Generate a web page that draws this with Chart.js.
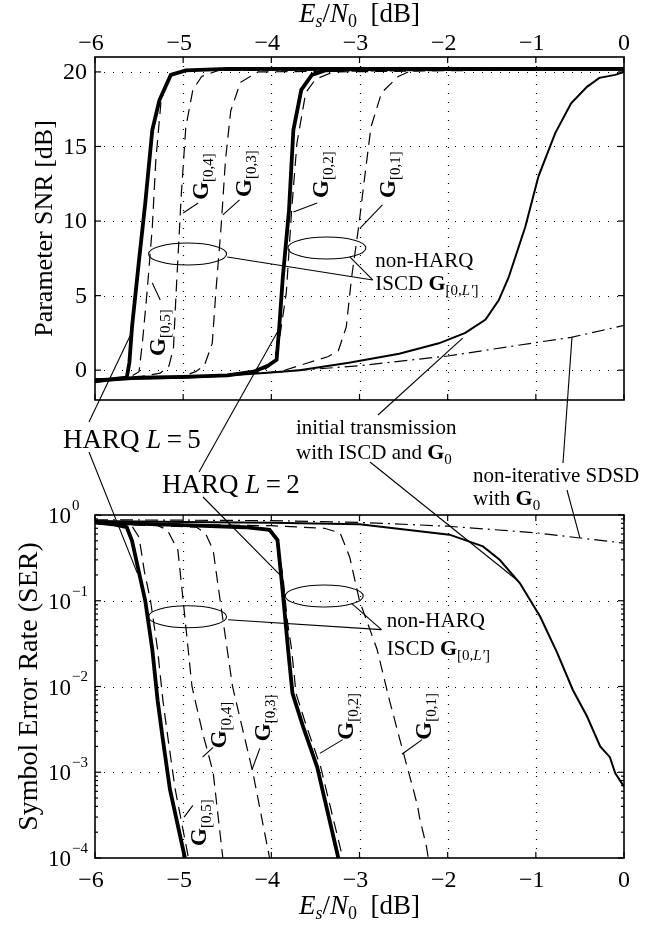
<!DOCTYPE html>
<html lang="en">
<head>
<meta charset="UTF-8">
<title>Parameter SNR and SER versus Es/N0</title>
<script src="https://cdn.jsdelivr.net/npm/chart.js"></script>
<style>
  body { margin: 0; background: #fff; }
  .wrap { position: relative; width: 662px; height: 928px; }
  .wrap canvas { position: absolute; left: 0; top: 0; }
</style>
</head>
<body>
<div class="wrap">
  <canvas id="snrChart" width="662" height="928"></canvas>
  <canvas id="serChart" width="662" height="928"></canvas>
</div>
<script>
// ---- axes ----
const xTicks = [-6, -5, -4, -3, -2, -1, 0];
const snrTicks = [0, 5, 10, 15, 20];
const serTicks = [1e-4, 1e-3, 1e-2, 1e-1, 1];
const serExp = ['\u22124', '\u22123', '\u22122', '\u22121', '0'];

// ---- top: parameter SNR [dB] vs Es/N0 [dB] ----
const harq5Snr = [[-6,-0.75],[-5.8,-0.6],[-5.64,-0.5],[-5.61,0.5],[-5.58,2.9],[-5.5,7.4],[-5.43,11.2],[-5.35,16.1],[-5.27,18.1],[-5.14,19.8],[-4.97,20.1],[-4.5,20.2],[0,20.2]];
const harq2Snr = [[-6,-0.7],[-5.5,-0.5],[-5,-0.45],[-4.5,-0.35],[-4.2,-0.1],[-4.04,0.3],[-3.94,0.7],[-3.91,2.9],[-3.87,6.2],[-3.8,10.7],[-3.75,16.1],[-3.66,18.8],[-3.54,19.8],[-3.39,20.1],[-3,20.2],[0,20.2]];
const g05Snr = [[-6,-0.6],[-5.6,-0.45],[-5.5,-0.1],[-5.46,2],[-5.41,5.2],[-5.35,9.6],[-5.31,14.1],[-5.25,18.1],[-5.16,19.7],[-5.0,20.1],[0,20.2]];
const g04Snr = [[-6,-0.6],[-5.5,-0.45],[-5.26,-0.2],[-5.16,0.3],[-5.11,1.5],[-5.08,5.2],[-5.02,11.9],[-4.97,16.3],[-4.89,18.8],[-4.79,19.7],[-4.6,20.1],[0,20.2]];
const g03Snr = [[-6,-0.6],[-5,-0.4],[-4.86,-0.1],[-4.76,0.3],[-4.67,1.8],[-4.63,5.2],[-4.57,9.6],[-4.52,14.1],[-4.46,17.4],[-4.35,19.3],[-4.15,20.0],[0,20.2]];
const g02Snr = [[-6,-0.6],[-4.5,-0.35],[-4.1,-0.1],[-3.98,0.5],[-3.91,2],[-3.83,5.2],[-3.77,10.7],[-3.71,15.2],[-3.61,18.6],[-3.5,19.5],[-3.3,20.0],[0,20.2]];
const g01Snr = [[-6,-0.6],[-4.5,-0.35],[-3.9,-0.1],[-3.58,0.5],[-3.36,0.9],[-3.24,1.3],[-3.15,2.9],[-3.09,6.2],[-3.01,9.6],[-2.94,13],[-2.87,16.3],[-2.75,18.6],[-2.56,19.7],[-2.41,20.1],[-2,20.2],[0,20.2]];
const initSnr = [[-6,-0.65],[-5,-0.5],[-4.5,-0.35],[-4,-0.15],[-3.68,0.0],[-3.12,0.5],[-2.55,1.1],[-2.1,1.8],[-1.8,2.5],[-1.57,3.4],[-1.42,4.7],[-1.31,6.2],[-1.12,9.6],[-0.97,13],[-0.78,15.9],[-0.6,17.9],[-0.42,19.0],[-0.28,19.6],[-0.1,19.8],[0,20.0]];
const sdsdSnr = [[-6,-0.65],[-5,-0.45],[-4,-0.15],[-3,0.3],[-2,0.95],[-1,1.85],[-0.6,2.2],[0,3.0]];

// ---- bottom: symbol error rate vs Es/N0 [dB] ----
const harq5Ser = [[-6,0.82],[-5.8,0.78],[-5.64,0.72],[-5.58,0.5],[-5.49,0.19],[-5.43,0.1],[-5.35,0.027],[-5.29,0.0069],[-5.23,0.0024],[-5.15,0.00063],[-4.98,0.0001]];
const harq2Ser = [[-6,0.82],[-5,0.76],[-4.3,0.72],[-4.02,0.67],[-3.93,0.51],[-3.88,0.16],[-3.81,0.027],[-3.76,0.0083],[-3.64,0.0034],[-3.48,0.00115],[-3.24,0.0001]];
const g05Ser = [[-6,0.8],[-5.7,0.78],[-5.58,0.74],[-5.5,0.55],[-5.44,0.22],[-5.37,0.1],[-5.29,0.027],[-5.23,0.0069],[-5.17,0.0024],[-5.09,0.00063],[-4.94,0.0001]];
const g04Ser = [[-6,0.8],[-5.3,0.76],[-5.18,0.67],[-5.06,0.39],[-5.0,0.1],[-4.9,0.01],[-4.78,0.0029],[-4.66,0.001],[-4.55,0.0001]];
const g03Ser = [[-6,0.8],[-4.85,0.72],[-4.75,0.62],[-4.66,0.39],[-4.58,0.1],[-4.44,0.01],[-4.21,0.001],[-4.02,0.0001]];
const g02Ser = [[-6,0.8],[-4.5,0.74],[-4.05,0.68],[-3.95,0.55],[-3.87,0.2],[-3.82,0.06],[-3.77,0.027],[-3.72,0.0083],[-3.6,0.0034],[-3.44,0.00115],[-3.19,0.0001]];
const g01Ser = [[-6,0.8],[-4,0.75],[-3.4,0.7],[-3.22,0.62],[-3.11,0.32],[-3.0,0.1],[-2.8,0.027],[-2.66,0.0069],[-2.51,0.0018],[-2.39,0.00063],[-2.34,0.0004],[-2.32,0.0003],[-2.24,0.000135],[-2.22,0.0001]];
const initSer = [[-6,0.85],[-5,0.83],[-4,0.81],[-3,0.78],[-1.98,0.59],[-1.6,0.43],[-1.41,0.30],[-1.18,0.16],[-0.95,0.065],[-0.76,0.025],[-0.58,0.0091],[-0.42,0.0045],[-0.27,0.002],[-0.16,0.0015],[-0.1,0.00098],[0,0.00068]];
const sdsdSer = [[-6,0.88],[-5,0.87],[-4,0.86],[-3,0.82],[-2,0.74],[-1,0.62],[0,0.47]];

const FONT = '"Liberation Serif", "Times New Roman", serif';
const f = (size, style) => (style ? style + ' ' : '') + size + 'px ' + FONT;

const thick = {borderWidth: 3.8};
const thin = {borderWidth: 2};
const dashed = {borderWidth: 1.2, borderDash: [12, 7]};
const dashDot = {borderWidth: 1.2, borderDash: [13, 5, 2, 5]};

function line(arr, style) {
  return Object.assign({
    data: arr.map(p => ({x: p[0], y: p[1]})),
    borderColor: '#000', pointRadius: 0, fill: false, tension: 0
  }, style);
}

// draws a run of text pieces: [text, font, dy]
function rich(ctx, parts, x, y, align) {
  let w = 0;
  parts.forEach(p => { ctx.font = p[1]; w += ctx.measureText(p[0]).width; });
  let cx = align === 'center' ? x - w / 2 : align === 'right' ? x - w : x;
  ctx.textAlign = 'left';
  ctx.textBaseline = 'alphabetic';
  parts.forEach(p => {
    ctx.font = p[1];
    ctx.fillText(p[0], cx, y + (p[2] || 0));
    cx += ctx.measureText(p[0]).width;
  });
}

function seg(ctx, a, b) {
  ctx.beginPath(); ctx.moveTo(a[0], a[1]); ctx.lineTo(b[0], b[1]); ctx.stroke();
}

function gLabel(ctx, sub, x, y) {
  ctx.save();
  ctx.translate(x, y);
  ctx.rotate(-Math.PI / 2);
  rich(ctx, [['G', f(23, 'bold')], [sub, f(15), 5]], 0, 8, 'left');
  ctx.restore();
}

function esTitle(ctx, x, y) {
  rich(ctx, [['E', f(27, 'italic')], ['s', f(18, 'italic'), 5], ['/', f(27)], ['N', f(27, 'italic')],
             ['0', f(18), 5], ['  [dB]', f(27)]], x, y, 'center');
}

// axes box, dotted grid, inward ticks, tick labels, titles
const frame = {
  id: 'frame',
  beforeDatasetsDraw(chart, args, o) {
    const {ctx, chartArea: a, scales: {x, y}} = chart;
    ctx.save();
    ctx.strokeStyle = '#000';
    ctx.lineWidth = 1.2;
    ctx.setLineDash([1, 8]);
    x.ticks.forEach(t => {
      if (t.value === x.min || t.value === x.max) return;
      const px = Math.round(x.getPixelForValue(t.value)) + 0.5;
      seg(ctx, [px, a.top], [px, a.bottom]);
    });
    y.ticks.forEach(t => {
      if (t.value === y.min || t.value === y.max) return;
      const py = Math.round(y.getPixelForValue(t.value)) + 0.5;
      seg(ctx, [a.left, py], [a.right, py]);
    });
    ctx.restore();
  },
  afterDatasetsDraw(chart, args, o) {
    const {ctx, chartArea: a, scales: {x, y}} = chart;
    ctx.save();
    ctx.strokeStyle = '#000';
    ctx.fillStyle = '#000';
    ctx.lineWidth = 1.2;
    x.ticks.forEach(t => {
      const px = x.getPixelForValue(t.value);
      seg(ctx, [px, a.top], [px, a.top + 6]);
      seg(ctx, [px, a.bottom], [px, a.bottom - 6]);
    });
    y.ticks.forEach(t => {
      const py = y.getPixelForValue(t.value);
      seg(ctx, [a.left, py], [a.left + 6, py]);
      seg(ctx, [a.right, py], [a.right - 6, py]);
    });
    if (o.log) {
      for (let k = -4; k < 0; k++) {
        for (let m = 2; m <= 9; m++) {
          const py = y.getPixelForValue(m * Math.pow(10, k));
          seg(ctx, [a.left, py], [a.left + 3, py]);
          seg(ctx, [a.right, py], [a.right - 3, py]);
        }
      }
    }
    ctx.lineWidth = 1.6;
    ctx.strokeRect(a.left, a.top, a.right - a.left, a.bottom - a.top);

    // tick labels
    ctx.textBaseline = 'middle';
    ctx.font = f(24);
    ctx.textAlign = 'center';
    x.ticks.forEach(t => {
      const s = t.value < 0 ? '\u2212' + Math.abs(t.value) : String(t.value);
      ctx.fillText(s, x.getPixelForValue(t.value) - (t.value < 0 ? 4 : 0), o.xLabelY);
    });
    if (o.log) {
      y.ticks.forEach((t, i) => {
        const py = y.getPixelForValue(t.value);
        ctx.textAlign = 'right';
        ctx.font = f(23);
        ctx.fillText('10', 71, py + 2);
        ctx.textAlign = 'left';
        ctx.font = f(15);
        ctx.fillText(serExp[i], 72, py - 9);
      });
    } else {
      ctx.textAlign = 'right';
      y.ticks.forEach(t => ctx.fillText(String(t.value), 87, y.getPixelForValue(t.value) + 1));
    }

    // axis titles
    esTitle(ctx, (a.left + a.right) / 2, o.xTitleY);
    ctx.save();
    ctx.translate(o.yTitleX, (a.top + a.bottom) / 2);
    ctx.rotate(-Math.PI / 2);
    rich(ctx, [[o.yTitle, f(o.yTitleSize)]], 0, 9, 'center');
    ctx.restore();
    ctx.restore();
  }
};

function opts(c) {
  return {
    responsive: false, animation: false, devicePixelRatio: 1, events: [],
    layout: {padding: c.padding},
    plugins: {legend: {display: false}, tooltip: {enabled: false}, frame: c.frame},
    scales: {
      x: {type: 'linear', position: c.xPos, min: -6, max: 0,
          afterBuildTicks: s => { s.ticks = xTicks.map(v => ({value: v})); },
          afterFit: s => { s.height = c.xHeight; },
          ticks: {display: false}, grid: {display: false}, border: {display: false}},
      y: {type: c.yType, min: c.yMin, max: c.yMax,
          afterBuildTicks: s => { s.ticks = c.yTicks.map(v => ({value: v})); },
          afterFit: s => { s.width = 95; },
          ticks: {display: false}, grid: {display: false}, border: {display: false}}
    }
  };
}

const ISCD = [['ISCD ', f(21)], ['G', f(22, 'bold')], ['[0,', f(15), 5], ['L\u2032', f(15, 'italic'), 5], [']', f(15), 5]];

// annotations inside the top plot
const snrNotes = {
  id: 'snrNotes',
  afterDraw(chart) {
    const {ctx, scales: {x, y}} = chart;
    const P = (a, b) => [x.getPixelForValue(a), y.getPixelForValue(b)];
    ctx.save();
    ctx.strokeStyle = '#000'; ctx.fillStyle = '#000'; ctx.lineWidth = 1.1;
    [['[0,5]', -5.30, 0.95, [-5.26, 4.71], [-5.35, 5.85]],
     ['[0,4]', -4.81, 11.42, [-4.83, 11.21], [-5.0, 10.54]],
     ['[0,3]', -4.32, 11.62, [-4.36, 11.42], [-4.55, 10.41]],
     ['[0,2]', -3.45, 11.55, [-3.48, 11.21], [-3.75, 10.61]],
     ['[0,1]', -2.69, 11.55, [-2.74, 11.08], [-2.99, 9.54]]].forEach(g => {
      const p = P(g[1], g[2]);
      gLabel(ctx, g[0], p[0], p[1]);
      seg(ctx, P(g[3][0], g[3][1]), P(g[4][0], g[4][1]));
    });
    [[-4.95, 7.79], [-3.37, 8.19]].forEach(e => {
      const p = P(e[0], e[1]);
      ctx.beginPath(); ctx.ellipse(p[0], p[1], 39, 11, 0, 0, 2 * Math.PI); ctx.stroke();
    });
    const tip = P(-2.85, 6.05);
    seg(ctx, P(-4.50, 7.59), tip);
    seg(ctx, P(-3.11, 7.59), tip);
    const t = P(-2.82, 7.39);
    rich(ctx, [['non-HARQ', f(21)]], t[0], t[1] + 7, 'left');
    rich(ctx, ISCD, t[0], t[1] + 30, 'left');
    ctx.restore();
  }
};

// annotations inside the bottom plot and in the gap between both plots
const serNotes = {
  id: 'serNotes',
  afterDraw(chart) {
    const {ctx, scales: {x, y}} = chart;
    const P = (a, b) => [x.getPixelForValue(a), y.getPixelForValue(b)];
    const sx = snrChart.scales.x, sy = snrChart.scales.y;
    const T = (a, b) => [sx.getPixelForValue(a), sy.getPixelForValue(b)];
    ctx.save();
    ctx.strokeStyle = '#000'; ctx.fillStyle = '#000'; ctx.lineWidth = 1.1;
    [['[0,5]', -4.83, 1.38e-4, [-4.89, 4.1e-4], [-4.99, 3.0e-4]],
     ['[0,4]', -4.60, 1.9e-3, [-4.66, 1.95e-3], [-4.78, 1.5e-3]],
     ['[0,3]', -4.11, 2.3e-3, [-4.13, 1.9e-3], [-4.22, 1.07e-3]],
     ['[0,2]', -3.16, 2.4e-3, [-3.19, 2.4e-3], [-3.45, 1.66e-3]],
     ['[0,1]', -2.28, 2.4e-3, [-2.29, 2.4e-3], [-2.52, 1.62e-3]]].forEach(g => {
      const p = P(g[1], g[2]);
      gLabel(ctx, g[0], p[0], p[1]);
      seg(ctx, P(g[3][0], g[3][1]), P(g[4][0], g[4][1]));
    });
    [[-4.95, 0.065], [-3.40, 0.1135]].forEach(e => {
      const p = P(e[0], e[1]);
      ctx.beginPath(); ctx.ellipse(p[0], p[1], 39, 11, 0, 0, 2 * Math.PI); ctx.stroke();
    });
    const tip = P(-2.75, 0.046);
    seg(ctx, P(-4.49, 0.060), tip);
    seg(ctx, P(-3.09, 0.093), tip);
    const t = P(-2.69, 0.060);
    rich(ctx, [['non-HARQ', f(21)]], t[0], t[1] + 7, 'left');
    rich(ctx, ISCD, t[0], t[1] + 35, 'left');

    // labels between the plots
    rich(ctx, [['HARQ ', f(27)], ['L', f(27, 'italic')], ['\u2009=\u20095', f(27)]], 63, 448, 'left');
    seg(ctx, [89, 422], T(-5.57, 2.7));
    seg(ctx, [89, 452], P(-5.52, 0.21));
    rich(ctx, [['HARQ ', f(27)], ['L', f(27, 'italic')], ['\u2009=\u20092', f(27)]], 162, 493, 'left');
    seg(ctx, [199, 472], T(-3.90, 2.9));
    seg(ctx, [203, 497], P(-3.88, 0.19));
    rich(ctx, [['initial transmission', f(21)]], 296, 434, 'left');
    rich(ctx, [['with ISCD and ', f(21)], ['G', f(22, 'bold')], ['0', f(15), 5]], 296, 459, 'left');
    seg(ctx, [378, 415], T(-1.83, 2.15));
    seg(ctx, [370, 462], P(-1.2, 0.17));
    rich(ctx, [['non-iterative SDSD', f(21)]], 473, 482, 'left');
    rich(ctx, [['with ', f(21)], ['G', f(22, 'bold')], ['0', f(15), 5]], 473, 505, 'left');
    seg(ctx, [563, 463], T(-0.59, 2.2));
    seg(ctx, [567, 490], P(-0.5, 0.54));
    ctx.restore();
  }
};

const snrChart = new Chart(document.getElementById('snrChart'), {
  type: 'line',
  data: {datasets: [
    line(harq5Snr, thick), line(harq2Snr, thick),
    line(initSnr, thin), line(sdsdSnr, dashDot),
    line(g05Snr, dashed), line(g04Snr, dashed), line(g03Snr, dashed),
    line(g02Snr, dashed), line(g01Snr, dashed)
  ]},
  options: opts({
    padding: {left: 0, right: 38, top: 0, bottom: 528},
    xPos: 'top', xHeight: 57, yType: 'linear', yMin: -2, yMax: 21, yTicks: snrTicks,
    frame: {log: false, xLabelY: 44, xTitleY: 22, yTitleX: 43, yTitle: 'Parameter SNR [dB]', yTitleSize: 26}
  }),
  plugins: [frame, snrNotes]
});

const serChart = new Chart(document.getElementById('serChart'), {
  type: 'line',
  data: {datasets: [
    line(harq5Ser, thick), line(harq2Ser, thick),
    line(initSer, thin), line(sdsdSer, dashDot),
    line(g05Ser, dashed), line(g04Ser, dashed), line(g03Ser, dashed),
    line(g02Ser, dashed), line(g01Ser, dashed)
  ]},
  options: opts({
    padding: {left: 0, right: 38, top: 515, bottom: 0},
    xPos: 'bottom', xHeight: 70, yType: 'logarithmic', yMin: 1e-4, yMax: 1, yTicks: serTicks,
    frame: {log: true, xLabelY: 881, xTitleY: 914, yTitleX: 28, yTitle: 'Symbol Error Rate (SER)', yTitleSize: 28}
  }),
  plugins: [frame, serNotes]
});
</script>
</body>
</html>
